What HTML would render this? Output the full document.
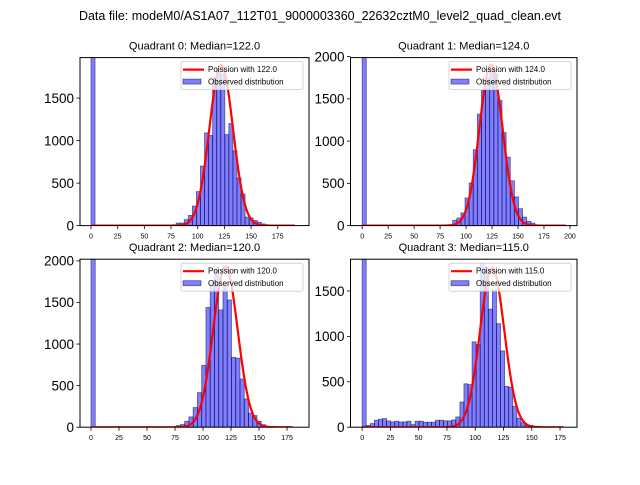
<!DOCTYPE html>
<html><head><meta charset="utf-8"><style>
body{margin:0;background:#fff}
svg text{font-family:"Liberation Sans","DejaVu Sans",sans-serif}
</style></head><body>
<svg id="chart" width="640" height="480" viewBox="0 0 640 480" xmlns="http://www.w3.org/2000/svg">
<rect width="640" height="480" fill="#fff"/>
<text x="320" y="20" font-size="12.5" text-anchor="middle">Data file: modeM0/AS1A07_112T01_9000003360_22632cztM0_level2_quad_clean.evt</text>
</svg>
<script>
// ---- data ----
const quadrantNames = ["Quadrant 0", "Quadrant 1", "Quadrant 2", "Quadrant 3"];
const medians = [122.0, 124.0, 120.0, 115.0];
const poissonPeaks = [1890, 1905, 1930, 1755];
const binWidths = [3.8, 3.96, 3.8, 3.6];
const q0Counts = [2500,0,0,0,0,0,0,0,0,0,0,0,0,0,0,0,0,0,0,0,10,30,30,70,120,230,400,700,1090,1060,1740,1850,1780,1070,1200,880,560,370,100,90,60,40,20,10];
const q1Counts = [2500,0,0,0,0,0,0,0,0,0,0,0,0,0,0,0,0,0,0,0,0,10,63,90,150,327,504,898,1320,1607,1750,1850,1800,1480,1100,810,530,340,200,100,50,30,10,5];
const q2Counts = [2500,0,0,0,0,0,0,0,0,0,0,0,0,0,0,0,0,0,0,0,20,32,72,124,236,416,744,1440,1740,1900,1410,1700,1530,840,830,580,340,170,140,70,30,10];
const q3Counts = [2500,20,40,77,88,95,70,58,66,58,58,66,29,66,66,55,55,55,77,77,70,70,80,113,277,478,470,940,910,1800,1760,1300,1510,1140,840,450,440,230,100,50,20,20,10,10,5];
const xTickLabels = [[0,25,50,75,100,125,150,175],[0,25,50,75,100,125,150,175,200],[0,25,50,75,100,125,150,175],[0,25,50,75,100,125,150,175]];
const yTickLabels = [[0,500,1000,1500],[0,500,1000,1500,2000],[0,500,1000,1500,2000],[0,500,1000,1500]];
const xMax = [191, 196, 180, 178];
const allCounts = [q0Counts, q1Counts, q2Counts, q3Counts];

// ---- layout ----
const panels = [
  {l:80, r:309, t:57.6, b:225.6, xmin:-10.3, xmax:204.3, ymax:1976},
  {l:350.5, r:577, t:57.6, b:225.6, xmin:-11.25, xmax:206.8, ymax:1988},
  {l:80, r:309, t:259.2, b:427.2, xmin:-9.8, xmax:194.6, ymax:2020},
  {l:350.5, r:577, t:259.2, b:427.2, xmin:-10.3, xmax:190, ymax:1850}
];
const NS = "http://www.w3.org/2000/svg";
const svg = document.getElementById("chart");
function mk(tag, attrs, parent){const e=document.createElementNS(NS,tag);for(const k in attrs)e.setAttribute(k,attrs[k]);(parent||svg).appendChild(e);return e;}

panels.forEach((p,i)=>{
  const sx = v => p.l + (v - p.xmin)/(p.xmax - p.xmin)*(p.r - p.l);
  const sy = v => p.b - v/p.ymax*(p.b - p.t);
  const g = mk("g",{});
  
  
  const clip = mk("clipPath",{id:"clip"+i}, g);
  mk("rect",{x:p.l,y:p.t,width:p.r-p.l,height:p.b-p.t}, clip);
  const plot = mk("g",{"clip-path":"url(#clip"+i+")"}, g);
  const w = binWidths[i];
  allCounts[i].forEach((c,k)=>{
    if(c<=0) return;
    const x0=sx(k*w), x1=sx((k+1)*w);
    const r = mk("rect",{x:x0,y:sy(c),width:x1-x0,height:sy(0)-sy(c),fill:"rgba(0,0,255,0.5)",stroke:"rgba(0,0,60,0.55)","stroke-width":0.8}, plot);
    
    
  });
  // poisson curve (gaussian approx of Poisson pmf, scaled)
  const lam = medians[i], pk = poissonPeaks[i];
  let d="";
  for(let x=0;x<=xMax[i];x+=0.5){
    const y = pk*Math.exp(-(x-lam)*(x-lam)/(2*lam));
    d += (x===0?"M":"L")+sx(x).toFixed(2)+","+sy(y).toFixed(2);
  }
  const line = mk("path",{d:d,fill:"none",stroke:"#ff0000","stroke-width":2.2,"stroke-linejoin":"round"}, plot);
  
  
  // frame
  const fr = mk("rect",{x:p.l,y:p.t,width:p.r-p.l,height:p.b-p.t,fill:"none",stroke:"#000","stroke-width":1}, g);
  
  
  // x ticks
  xTickLabels[i].forEach(v=>{
    const x=sx(v);
    mk("line",{x1:x,x2:x,y1:p.b,y2:p.b+3.5,stroke:"#000","stroke-width":0.8}, g);
    const t = mk("text",{x:x,y:p.b+13,"font-size":7,"text-anchor":"middle"}, g);
    
    
    t.textContent = v;
  });
  // y ticks
  yTickLabels[i].forEach(v=>{
    const y=sy(v);
    mk("line",{x1:p.l-3.5,x2:p.l,y1:y,y2:y,stroke:"#000","stroke-width":0.8}, g);
    const t = mk("text",{x:p.l-6,y:y+4.8,"font-size":13.5,"text-anchor":"end"}, g);
    
    
    t.textContent = v;
  });
  // title
  const tt = mk("text",{x:(p.l+p.r)/2,y:p.t-8,"font-size":11,"text-anchor":"middle"}, g);
  
  
  tt.textContent = quadrantNames[i]+": Median="+medians[i].toFixed(1);
  // legend
  const lx = p.r-128, ly = p.t+4;
  const lg = mk("g",{}, g);
  
  
  mk("rect",{x:lx,y:ly,width:122,height:28,rx:2,fill:"rgba(255,255,255,0.8)",stroke:"#ccc","stroke-width":0.8}, lg);
  mk("line",{x1:lx+2,x2:lx+23,y1:ly+8,y2:ly+8,stroke:"#ff0000","stroke-width":2.2}, lg);
  mk("rect",{x:lx+2,y:ly+17.5,width:18,height:5,fill:"rgba(0,0,255,0.5)",stroke:"rgba(0,0,60,0.55)","stroke-width":0.8}, lg);
  const t1 = mk("text",{x:lx+27,y:ly+10.5,"font-size":8}, lg);
  
  
  t1.textContent = "Poission with "+medians[i].toFixed(1);
  const t2 = mk("text",{x:lx+27,y:ly+23,"font-size":8}, lg);
  
  
  t2.textContent = "Observed distribution";
});
</script>
</body></html>
